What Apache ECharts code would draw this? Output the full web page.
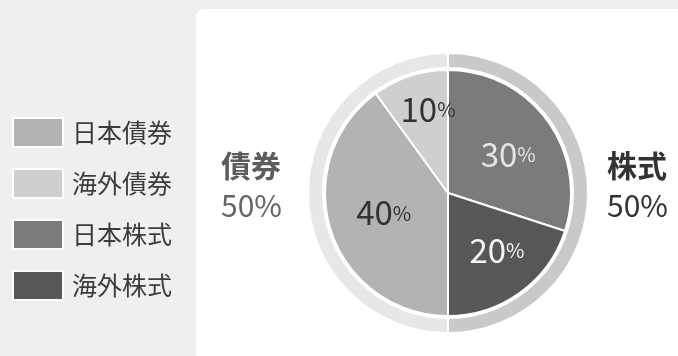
<!DOCTYPE html>
<html>
<head>
<meta charset="utf-8">
<script src="https://cdn.jsdelivr.net/npm/echarts@6/dist/echarts.min.js"></script>
<style>html,body{margin:0;padding:0;background:#efefef;}#c{width:678px;height:356px;}</style>
</head>
<body>
<div id="c"></div>
<script>
// Data
const innerNames = ['日本株式', '海外株式', '日本債券', '海外債券'];
const innerValues = [30, 20, 40, 10];
const outerNames = ['株式', '債券'];
const outerValues = [50, 50];
const legendOrder = ['日本債券', '海外債券', '日本株式', '海外株式'];

// Styles
const innerColors = {'日本株式': '#7b7b7b', '海外株式': '#585656', '日本債券': '#b3b3b3', '海外債券': '#cfcfcf'};
const innerLabelColors = {'日本株式': '#e4e4e4', '海外株式': '#f4f4f4', '日本債券': '#333333', '海外債券': '#333333'};
const innerLabelNudge = {'日本株式': [8, -1], '海外株式': [11, 5], '日本債券': [-3, 0], '海外債券': [0, -22]};
const outerColors = {'株式': '#c9c9c9', '債券': '#e7e7e7'};
const outerLabelStyle = {
  '株式': {a: {color: '#333333', fontWeight: 'bold'}, b: {color: '#333333', fontWeight: 'normal'}},
  '債券': {a: {color: '#5c5c5c', fontWeight: 'bold'}, b: {color: '#666666', fontWeight: 'normal'}}
};

const FONT = '"Noto Sans CJK JP", "Noto Sans", sans-serif';
const center = [448, 193];

const chart = echarts.init(document.getElementById('c'), null, {renderer: 'canvas'});
chart.setOption({
  backgroundColor: '#efefef',
  animation: false,
  graphic: [{
    type: 'rect', z: -10, silent: true,
    shape: {x: 196, y: 9, width: 600, height: 420, r: [8, 0, 0, 0]},
    style: {fill: '#ffffff'}
  }],
  legend: {
    orient: 'vertical', left: 12, top: 117, padding: 0,
    icon: 'rect', itemWidth: 50, itemHeight: 29, itemGap: 20,
    data: legendOrder,
    textStyle: {fontFamily: FONT, fontSize: 25, color: '#3c3c3c', padding: [0, 0, 0, 4]},
    selectedMode: false
  },
  series: [
    {
      type: 'pie', name: 'outer', center: center, radius: [125, 140],
      startAngle: 90, clockwise: true, silent: true,
      avoidLabelOverlap: false,
      itemStyle: {borderColor: '#ffffff', borderWidth: 2},
      label: {
        show: true, position: 'outside',
        padding: [0, 0, 14, 0],
        formatter: p => '{a|' + p.name + '}\n{b|' + p.value + '%}'
      },
      labelLine: {show: false, length: 14, length2: 0},
      data: outerNames.map((n, i) => ({
        name: n, value: outerValues[i],
        itemStyle: {color: outerColors[n]},
        label: {
          rich: {
            a: Object.assign({fontFamily: FONT, fontSize: 30, lineHeight: 40, width: i === 1 ? 68 : undefined, align: 'left'}, outerLabelStyle[n].a),
            b: Object.assign({fontFamily: FONT, fontSize: 30, lineHeight: 40, width: i === 1 ? 68 : undefined, align: 'left'}, outerLabelStyle[n].b)
          }
        }
      }))
    },
    {
      type: 'pie', name: 'inner', center: center, radius: [0, 123],
      startAngle: 90, clockwise: true, silent: true,
      itemStyle: {borderColor: '#ffffff', borderWidth: 2},
      label: {show: true, position: 'inside'},
      labelLine: {show: false},
      data: innerNames.map((n, i) => ({
        name: n, value: innerValues[i],
        itemStyle: {color: innerColors[n]},
        label: {
          offset: innerLabelNudge[n],
          formatter: '{n|' + innerValues[i] + '}{p|%}',
          rich: {
            n: {fontFamily: FONT, fontSize: 33, color: innerLabelColors[n]},
            p: {fontFamily: FONT, fontSize: 20, color: innerLabelColors[n]}
          }
        }
      }))
    }
  ]
});
</script>
</body>
</html>
